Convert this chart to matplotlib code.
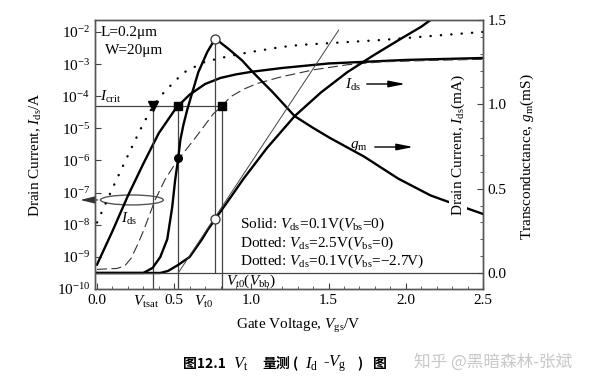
import numpy as np
import matplotlib.pyplot as plt
from matplotlib.patches import Ellipse
from matplotlib.ticker import MultipleLocator, NullLocator

# log-scale drain current curves, values are log10(Ids/A)
vg_solid = [0.0, 0.1, 0.2, 0.3, 0.4, 0.5, 0.526, 0.6, 0.7, 0.8, 0.9, 1.0, 1.2, 1.5, 2.0, 2.5]
lg_solid = [-9.24, -8.2, -7.1, -6.1, -5.15, -4.45, -4.30, -3.95, -3.62, -3.43, -3.32, -3.24,
            -3.12, -2.98, -2.87, -2.81]

vg_dot = [0.0, 0.117, 0.234, 0.30, 0.364, 0.43, 0.474, 0.526, 0.571, 0.62, 0.68, 0.75, 0.83,
          0.9, 1.0, 1.19, 1.32, 1.6, 1.84, 2.1, 2.44, 2.5]
lg_dot = [-7.93, -6.69, -5.5, -4.85, -4.30, -3.90, -3.68, -3.43, -3.24, -3.12, -2.96, -2.87,
          -2.78, -2.71, -2.62, -2.47, -2.40, -2.32, -2.25, -2.15, -2.02, -2.0]

vg_dash = [0.0, 0.13, 0.18, 0.22, 0.26, 0.30, 0.377, 0.44, 0.506, 0.636, 0.753, 0.81, 0.864,
           0.95, 1.04, 1.19, 1.40, 1.62, 1.84, 2.2, 2.5]
lg_dash = [-9.39, -9.36, -9.28, -9.05, -8.65, -8.2, -7.22, -6.6, -6.1, -5.3, -4.55, -4.30,
           -4.02, -3.78, -3.6, -3.40, -3.18, -3.02, -2.93, -2.88, -2.85]

# linear-scale curves on the right axis
vg_ids = [0.0, 0.41, 0.46, 0.526, 0.60, 0.68, 0.72, 0.766, 0.82, 0.87, 0.95, 1.10, 1.28, 1.45,
          1.62, 1.79, 1.97, 2.10, 2.16]
ids_ma = [0.0, 0.0, 0.012, 0.048, 0.095, 0.20, 0.26, 0.32, 0.39, 0.455, 0.56, 0.74, 0.93, 1.07,
          1.19, 1.29, 1.39, 1.46, 1.50]

vg_gm = [0.0, 0.30, 0.36, 0.41, 0.455, 0.487, 0.506, 0.526, 0.54, 0.56, 0.585, 0.617, 0.656,
         0.714, 0.766, 0.85, 0.94, 1.01, 1.14, 1.28, 1.40, 1.51, 1.73, 1.95, 2.16, 2.25, 2.5]
gm_ms = [0.0, 0.0, 0.03, 0.095, 0.20, 0.39, 0.55, 0.68, 0.79, 0.88, 0.97, 1.07, 1.19,
         1.31, 1.39, 1.33, 1.26, 1.19, 1.07, 0.93, 0.86, 0.80, 0.69, 0.56, 0.46, 0.43, 0.35]

# tangent (linear extrapolation) at max gm
vg_tan = [0.526, 1.565]
tan_ma = [0.0, 1.44]

# marked points
icrit = 10 ** -4.30
vtsat = 0.364
vt_half = 0.526
vg_peak = 0.766
vt_bb = 0.81
gm_half = 0.68
gm_peak = 1.39
ids_peak = 0.32

plt.rcParams['font.family'] = ['Liberation Serif', 'DejaVu Serif']
plt.rcParams['mathtext.fontset'] = 'custom'
plt.rcParams['mathtext.rm'] = 'Liberation Serif'
plt.rcParams['mathtext.it'] = 'Liberation Serif:italic'
plt.rcParams['font.size'] = 11

W, H = 600, 384
fig = plt.figure(figsize=(6, 3.84), dpi=100)
ax = fig.add_axes([95 / W, 1 - 289 / H, 388 / W, 269 / H])
ax2 = ax.twinx()

def fx(px):
    return px / W

def fy(py):
    return 1 - py / H

gray = '#444444'

# left axis (log)
ax.plot(vg_solid, 10 ** np.array(lg_solid), color='k', lw=1.7)
ax.plot(vg_dot, 10 ** np.array(lg_dot), color='k', lw=1.7, ls=(0, (0.1, 4.3)),
        dash_capstyle='round')
ax.plot(vg_dash, 10 ** np.array(lg_dash), color='#333333', lw=0.8, ls=(0, (9, 4)))
ax.hlines(icrit, -0.013, vt_bb, colors=gray, lw=0.9)
ax.vlines([vtsat, vt_half, vt_bb], 1e-10, icrit, colors=gray, lw=0.9)
ax.plot(vtsat, icrit, 'v', ms=6.5, color='k')
ax.plot([vt_half, vt_bb], [icrit, icrit], 's', ms=5.5, color='k')

ax.set_yscale('log')
ax.set_xlim(-0.013, 2.5)
ax.set_ylim(1e-10, 10 ** -1.627)
ax.set_xticks([0, 0.5, 1.0, 1.5, 2.0, 2.5])
ax.xaxis.set_minor_locator(MultipleLocator(0.1))
ax.set_yticks(10.0 ** np.arange(-10, -1))
ax.yaxis.set_minor_locator(NullLocator())
ax.tick_params(which='both', direction='in', top=False, right=False, labelsize=11,
               color=gray)
ax.tick_params(which='major', length=4)
ax.tick_params(which='minor', length=2.5)

# right axis (linear)
ax2.plot(vg_ids, ids_ma, color='k', lw=1.7)
ax2.plot(vg_gm, gm_ms, color='k', lw=1.7)
ax2.plot(vg_tan, tan_ma, color=gray, lw=0.7)
ax2.axhline(0, color=gray, lw=0.9)
ax2.vlines(vg_peak, 0, gm_peak, colors=gray, lw=0.9)
ax2.plot(vt_half, gm_half, 'o', ms=5.5, color='k')
ax2.plot([vg_peak, vg_peak], [gm_peak, ids_peak], 'o', ms=6.5, mfc='white', mec='#333333',
         mew=0.9, zorder=5)
ax2.set_ylim(-0.095, 1.5)
ax2.set_yticks([0, 0.5, 1.0, 1.5])
ax2.yaxis.set_minor_locator(MultipleLocator(0.1))
ax2.tick_params(axis='y', which='both', direction='in', labelsize=11, color=gray)
ax2.tick_params(axis='y', which='major', length=4)
ax2.tick_params(axis='y', which='minor', length=2.5)

for a in (ax, ax2):
    for s in a.spines.values():
        s.set_color('#555555')
        s.set_linewidth(1.0)

# annotations inside the plot
ax.text(0.013, 0.955, 'L=0.2μm', transform=ax.transAxes, va='center', fontsize=11)
ax.text(0.026, 0.888, 'W=20μm', transform=ax.transAxes, va='center', fontsize=11)
fig.text(fx(100), fy(97), r'$I_{\rm crit}$', va='center', fontsize=11)

fig.text(fx(345), fy(85), r'$I_{\rm ds}$', va='center', fontsize=11)
fig.text(fx(350), fy(146), r'$g_{\rm m}$', va='center', fontsize=11)
arr = dict(arrowstyle='-|>,head_length=0.9,head_width=0.18', color='k', lw=1.0)
ax.annotate('', xy=(fx(408), fy(84)), xytext=(fx(364), fy(84)),
            xycoords='figure fraction', arrowprops=arr)
ax.annotate('', xy=(fx(416), fy(147)), xytext=(fx(372), fy(147)),
            xycoords='figure fraction', arrowprops=arr)

ax.add_patch(Ellipse((0.095, 0.331), 0.162, 0.037, transform=ax.transAxes, fill=False,
                     ec='#555555', lw=1.0))
ax.annotate('', xy=(-0.045, 0.331), xytext=(0.014, 0.331), xycoords='axes fraction',
            arrowprops=dict(arrowstyle='-|>,head_length=0.8,head_width=0.2',
                            color='#333333', lw=0.9), annotation_clip=False)
fig.text(fx(129), fy(219), r'$I_{\rm ds}$', ha='center', va='center', fontsize=11)

fig.text(fx(240), fy(224), r'Solid: $V_{\rm ds}$=0.1V($V_{\rm bs}$=0)', va='center',
         fontsize=11)
fig.text(fx(240), fy(243), r'Dotted: $V_{\rm ds}$=2.5V($V_{\rm bs}$=0)', va='center',
         fontsize=11)
fig.text(fx(240), fy(261), r'Dotted: $V_{\rm ds}$=0.1V($V_{\rm bs}$=$-$2.7V)', va='center',
         fontsize=11)
fig.text(fx(226), fy(281), r'$V_{\rm t0}$($V_{\rm bb}$)', va='center', fontsize=11)

fig.text(fx(146), fy(302), r'$V_{\rm tsat}$', ha='center', va='center', fontsize=11)
fig.text(fx(204), fy(302), r'$V_{\rm t0}$', ha='center', va='center', fontsize=11)

# axis labels
fig.text(fx(298), fy(326), r'Gate Voltage, $V_{\rm gs}$/V', ha='center', va='center',
         fontsize=11)
fig.text(fx(36), fy(155), r'Drain Current, $I_{\rm ds}$/A', rotation=90, ha='center',
         va='center', fontsize=11)
fig.text(fx(458), fy(145), r'Drain Current, $I_{\rm ds}$(mA)', rotation=90, ha='center',
         va='center', fontsize=11,
         bbox=dict(facecolor='white', edgecolor='none', pad=0.5))
fig.text(fx(527), fy(157), r'Transconductance, $g_{\rm m}$(mS)', rotation=90, ha='center',
         va='center', fontsize=11)

# caption and watermark
cjk = ['Noto Sans CJK SC', 'DejaVu Sans']
cy = fy(364)
fig.text(fx(183), cy, '图12.1', family=cjk, fontweight='bold', fontsize=10, va='center')
fig.text(fx(233), cy, r'$V_{\rm t}$', fontsize=12, va='center')
fig.text(fx(262), cy, '量测', family=cjk, fontweight='bold', fontsize=10, va='center')
fig.text(fx(293), cy, '(', family=cjk, fontweight='bold', fontsize=10, va='center')
fig.text(fx(305), cy, r'$I_{\rm d}$', fontsize=12, va='center')
fig.text(fx(323), cy, r'-$V_{\rm g}$', fontsize=12, va='center')
fig.text(fx(357), cy, ')', family=cjk, fontweight='bold', fontsize=10, va='center')
fig.text(fx(373), cy, '图', family=cjk, fontweight='bold', fontsize=10, va='center')
fig.text(fx(414), fy(362), '知乎 @黑暗森林-张斌', family=cjk, fontsize=12, color='#c8c8c8',
         va='center')

fig.savefig('out.png', dpi=100)
